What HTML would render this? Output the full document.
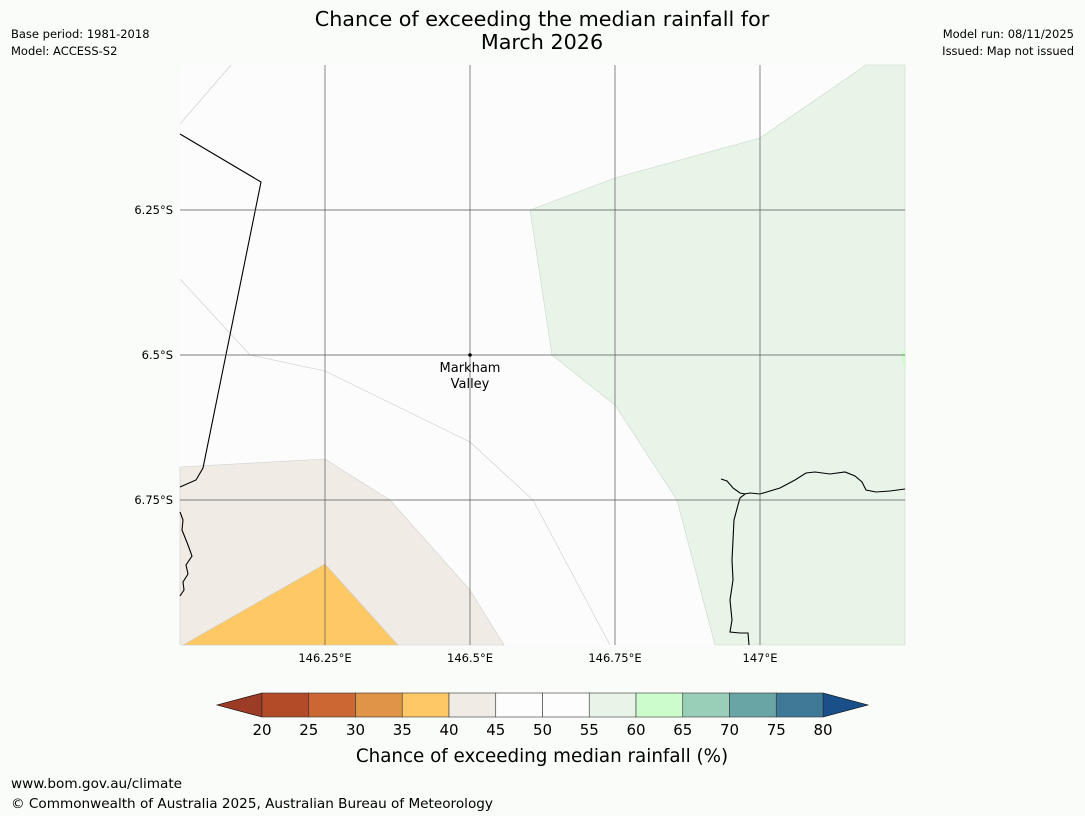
<!DOCTYPE html>
<html><head><meta charset="utf-8"><style>
body{margin:0;background:#fafcf9;width:1085px;height:816px;overflow:hidden;font-family:"DejaVu Sans","Liberation Sans",sans-serif}
svg{display:block}
</style></head><body>
<svg id="s" width="1085" height="816">
<rect width="1085" height="816" fill="#fafcf9"/>
<text x="542" y="26" font-size="20.7" text-anchor="middle">Chance of exceeding the median rainfall for</text>
<text x="542" y="49" font-size="20.7" text-anchor="middle">March 2026</text>
<text x="11" y="38" font-size="11.5">Base period: 1981-2018</text>
<text x="11" y="55" font-size="11.5">Model: ACCESS-S2</text>
<text x="1074" y="38" font-size="11.5" text-anchor="end">Model run: 08/11/2025</text>
<text x="1074" y="55" font-size="11.5" text-anchor="end">Issued: Map not issued</text>
<g id="map">
<rect x="180" y="65" width="725" height="580" fill="#fbfcfb"/>
<polygon points="530,210 615,178 760,138 866,65 905,65 905,645 715,645 677,500 615,405 552,355" fill="#e9f4e9" stroke="#c8d8c8" stroke-width="0.6"/>
<polygon points="180,467 325,459 390,500 470,590 504,645 180,645" fill="#f0ebe5" stroke="#d0d0d0" stroke-width="0.6"/>
<polygon points="183,645 325,564 398,645" fill="#fec965" stroke="#ccc" stroke-width="0.6"/>
<polygon points="905,348 901,355 905,370" fill="#ccfccc"/>
<polyline fill="none" stroke="#ccc" stroke-width="0.6" points="180,124 231,65"/>
<polyline fill="none" stroke="#ccc" stroke-width="0.6" points="180,279 250,355 325,371 470,442 533,500 610,645"/>
<path d="M180,134 L261,182 L203,468 L196,480 L180,487" fill="none" stroke="#000" stroke-width="1.1"/>
<path d="M180,512 L183,520 L182,530 L188,545 L192,556 L186,565 L188,574 L183,582 L184,590 L180,596" fill="none" stroke="#000" stroke-width="1.1"/>
<path d="M721,479 L727,481 L733,488 L740,493 L745,494 L740,498 L738,505 L734,520 L733,540 L732,560 L733,580 L730,600 L732,620 L730,632 L740,633 L748,633 L749,645 M744,494 L750,493 L760,494 L770,491 L780,488 L795,480 L806,473 L815,472 L830,474 L845,472 L855,476 L862,482 L866,490 L876,492 L890,491 L905,489" fill="none" stroke="#000" stroke-width="1.1"/>
<g id="grid"></g>
<circle cx="470" cy="355" r="1.8" fill="#000"/>
<text x="470" y="372" font-size="13" text-anchor="middle">Markham</text>
<text x="470" y="388" font-size="13" text-anchor="middle">Valley</text>
</g>
<g id="cbar"></g>
<text x="542" y="762" font-size="18.3" text-anchor="middle">Chance of exceeding median rainfall (%)</text>
<text x="11" y="788" font-size="13.6">www.bom.gov.au/climate</text>
<text x="11" y="808" font-size="13.6">© Commonwealth of Australia 2025, Australian Bureau of Meteorology</text>
</svg>
<script>
const lonTicks=[146.25,146.5,146.75,147];
const lonLabels=["146.25°E","146.5°E","146.75°E","147°E"];
const latTicks=[-6.25,-6.5,-6.75];
const latLabels=["6.25°S","6.5°S","6.75°S"];
const levels=[20,25,30,35,40,45,50,55,60,65,70,75,80];
const binColors=["#b34a28","#cc6633","#e09447","#fec965","#f0ebe5","#fdfdfd","#fdfdfd","#e9f4e9","#ccfccc","#99cfb8","#6aa5a6","#3f7998"];
const underColor="#9c3b26", overColor="#1a5089";
const NS="http://www.w3.org/2000/svg";
const X=lon=>325+(lon-146.25)*580, Y=lat=>210+(-6.25-lat)*580;
function mk(t,a,p){const e=document.createElementNS(NS,t);for(const k in a)e.setAttribute(k,a[k]);p.appendChild(e);return e;}
const g=document.getElementById('grid');
lonTicks.forEach((v,i)=>{const x=X(v);
 const l=mk('line',{x1:x,x2:x,y1:65,y2:645,stroke:'#555','stroke-width':0.7},g);
 
 
 const t=mk('text',{x:x,y:662,'font-size':11.5,'text-anchor':'middle'},g);t.textContent=lonLabels[i];
 
 });
latTicks.forEach((v,i)=>{const y=Y(v);
 const l=mk('line',{x1:180,x2:905,y1:y,y2:y,stroke:'#555','stroke-width':0.7},g);
 
 
 const t=mk('text',{x:173,y:y+4,'font-size':11.5,'text-anchor':'end'},g);t.textContent=latLabels[i];
 
 });
const cb=document.getElementById('cbar');
const x0=262,x1=823,y0=693,h=24;
const CX=v=>x0+(v-levels[0])/(levels[levels.length-1]-levels[0])*(x1-x0);
const u=mk('polygon',{points:`${x0},${y0} ${x0},${y0+h} 217,${y0+h/2}`,fill:underColor,stroke:'#000','stroke-width':0.6},cb);


const o=mk('polygon',{points:`${x1},${y0} ${x1},${y0+h} 868,${y0+h/2}`,fill:overColor,stroke:'#000','stroke-width':0.6},cb);


binColors.forEach((c,i)=>{const a=CX(levels[i]),b=CX(levels[i+1]);
 const r=mk('rect',{x:a,y:y0,width:b-a,height:h,fill:c,stroke:'#333','stroke-width':0.6},cb);
 
 });
levels.forEach(v=>{const t=mk('text',{x:CX(v),y:735,'font-size':15,'text-anchor':'middle'},cb);t.textContent=v;
 
 });
</script>
</body></html>
